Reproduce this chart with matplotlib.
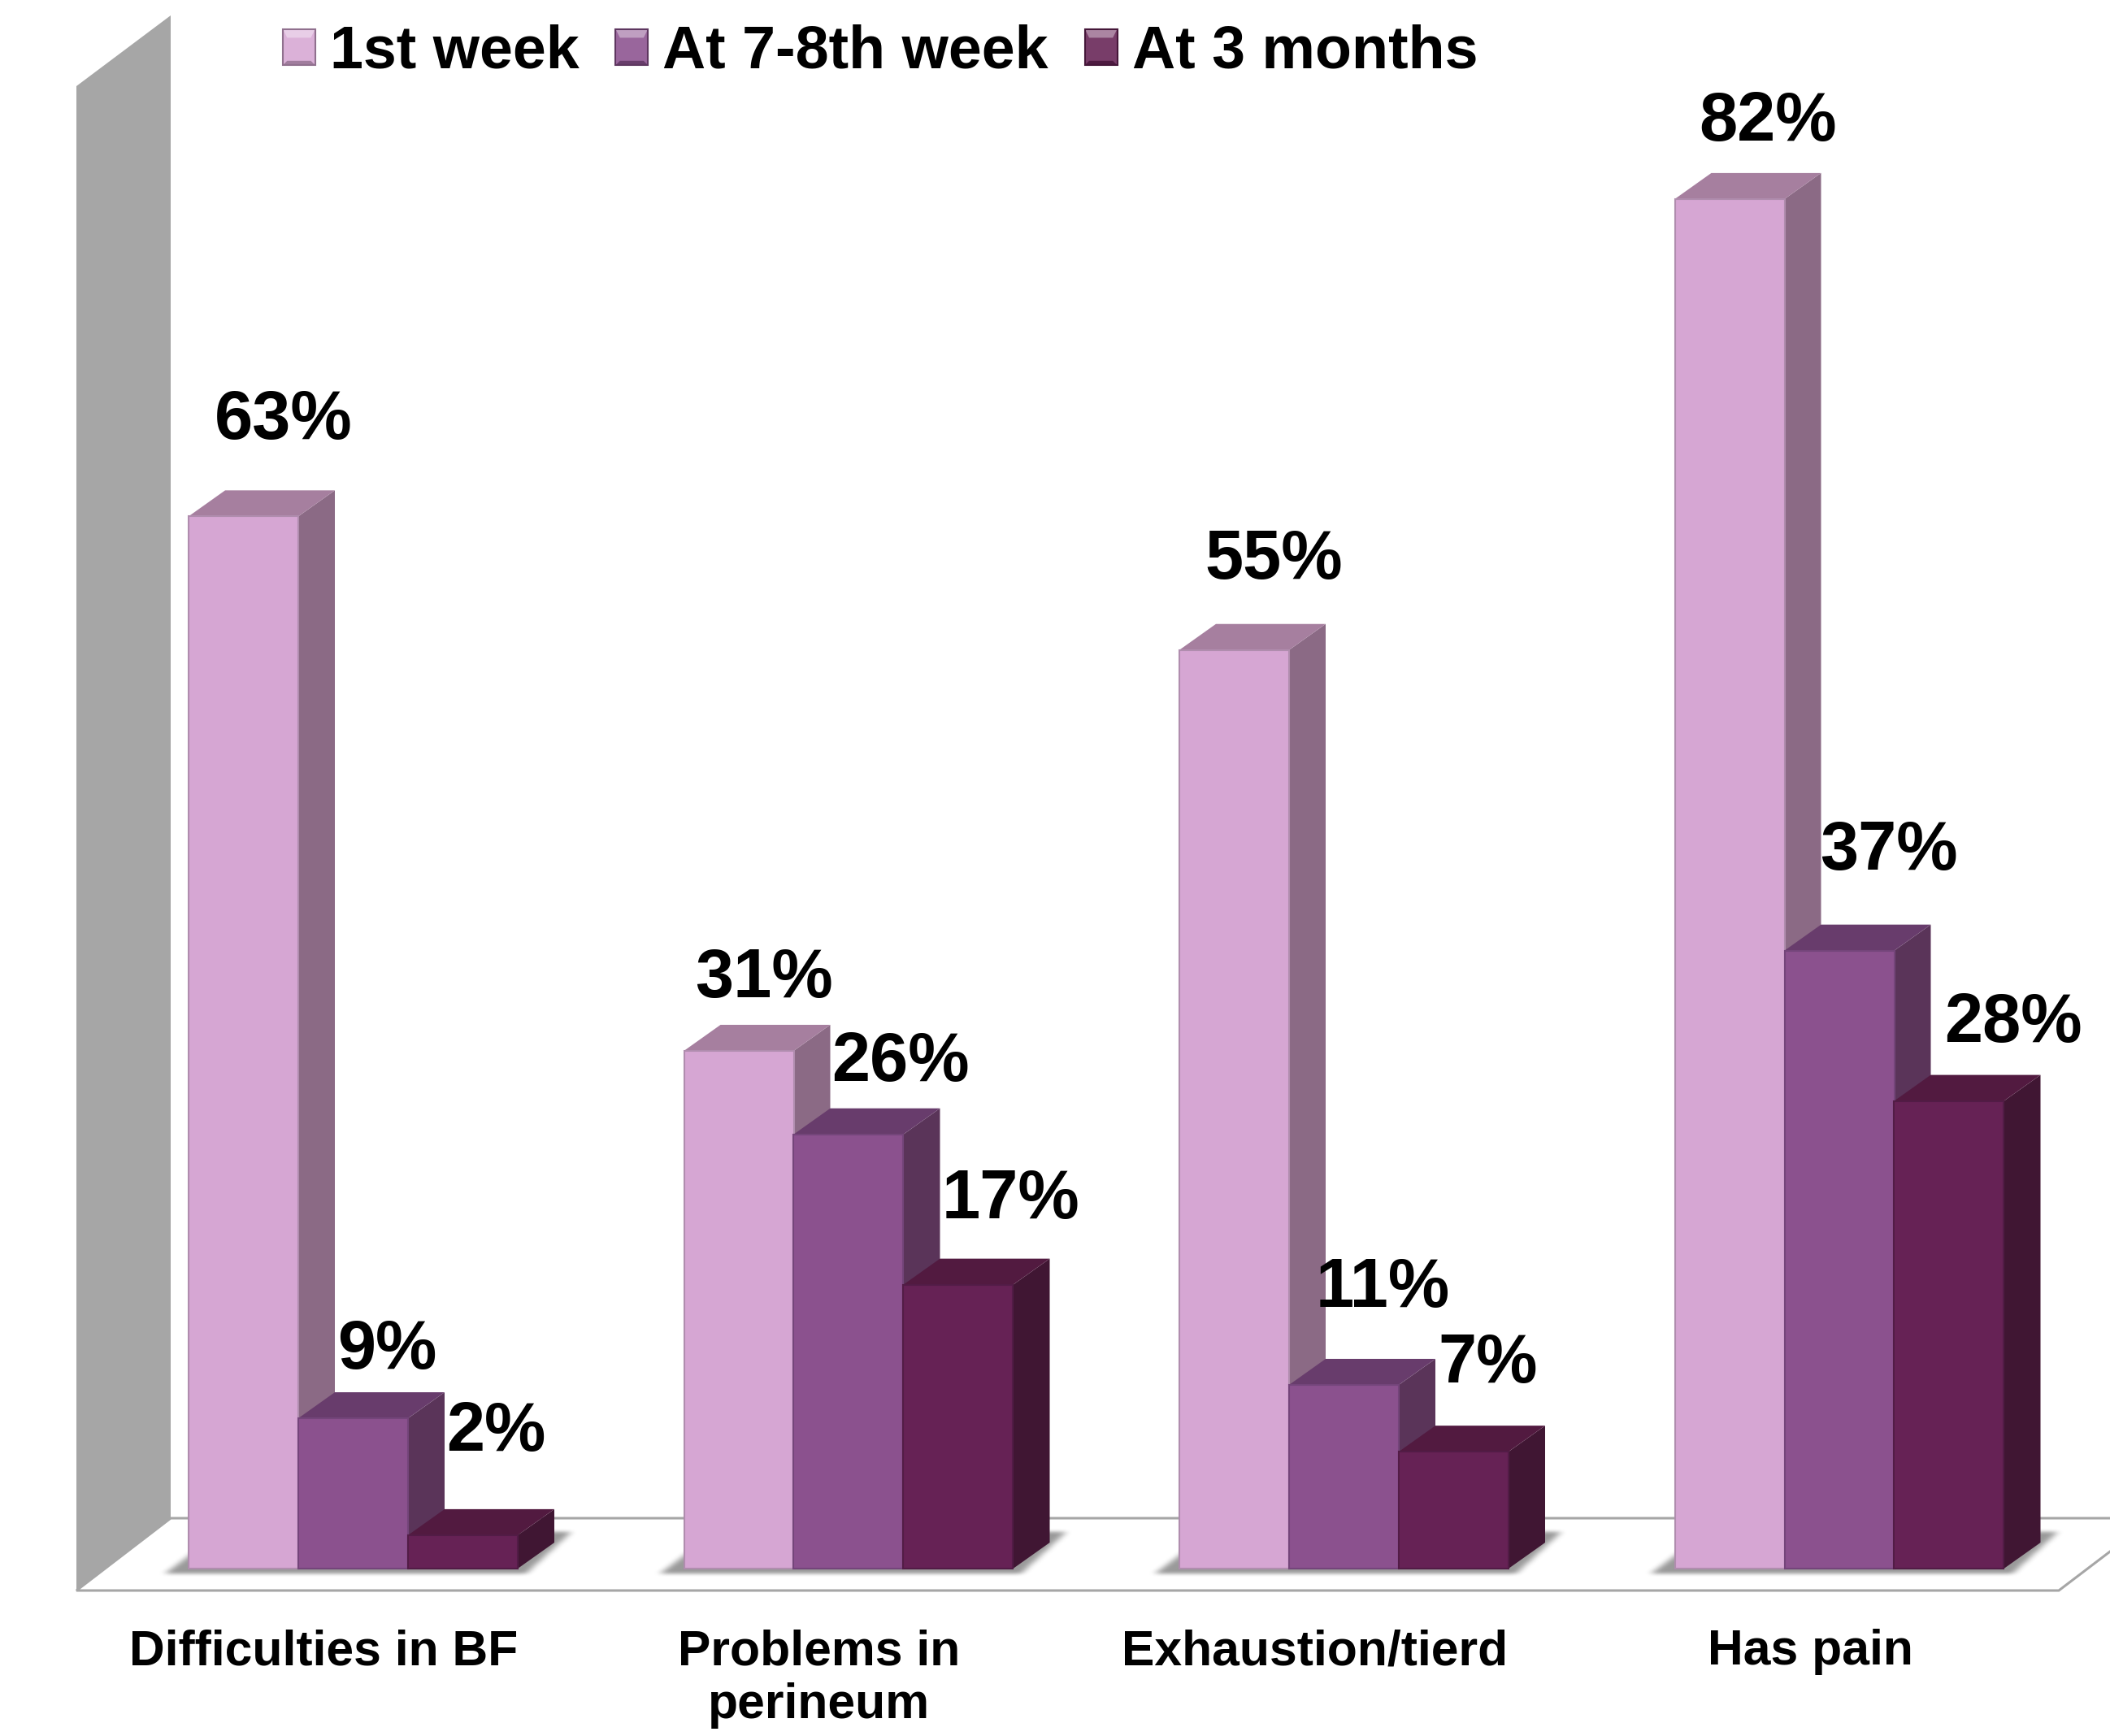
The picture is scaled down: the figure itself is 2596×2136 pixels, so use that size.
import numpy as np
import matplotlib
matplotlib.use("Agg")
import matplotlib.pyplot as plt
from matplotlib.legend_handler import HandlerBase
from matplotlib.patches import Patch, Polygon
from matplotlib.path import Path

plt.rcParams['font.family'] = ['Liberation Sans', 'DejaVu Sans']
plt.rcParams['font.weight'] = 'bold'

categories = ['Difficulties in BF', 'Problems in\nperineum', 'Exhaustion/tierd', 'Has pain']
series_names = ['1st week', 'At 7-8th week', 'At 3 months']
first_week = [63, 31, 55, 82]
week_7_8 = [9, 26, 11, 37]
three_months = [2, 17, 7, 28]

front_colors = ['#D6A6D3', '#8B518E', '#662255']
top_colors = ['#A67F9F', '#683C6C', '#521A40']
side_colors = ['#8B6A85', '#5A3459', '#401633']
edge_colors = ['#B08DAE', '#74457A', '#521C46']

# label offsets from the bar top, pixels
label_dx = [[49, 31, 49, 47], [42, 64, 48, 61], [41, 64, 42, 79]]
label_dy = [[117, 88, 110, 94], [83, 88, 118, 122], [126, 104, 107, 95]]

W, H = 2596, 2136
PX_X = 609.5      # pixels per category
PX_Y = 20.55      # pixels per percent
X0 = 434.5
Y0 = 1930
FLOOR_FRONT = 1957
FLOOR_BACK = 1868
GREY = '#A6A6A6'

bar_w = 135 / PX_X
depth_x = 45 / PX_X
depth_y = 32 / PX_Y


def xd(px):
    return (px - X0) / PX_X


def yd(py):
    return (Y0 - py) / PX_Y


class BevelHandler(HandlerBase):
    # legend swatch with a bevelled frame
    def create_artists(self, legend, orig_handle, xdescent, ydescent, width, height, fontsize, trans):
        face = np.array(matplotlib.colors.to_rgb(orig_handle.get_facecolor()))
        light = face + (1 - face) * 0.45
        mid = face + (1 - face) * 0.12
        dark = face * 0.75
        x0, y0 = -xdescent, -ydescent
        x1, y1 = x0 + width, y0 + height
        b = height * 0.24
        s = height * 0.12
        shapes = [
            ([(x0, y0), (x1, y0), (x1, y1), (x0, y1)], mid),
            ([(x0, y1), (x1, y1), (x1 - s, y1 - b), (x0 + s, y1 - b)], light),
            ([(x0, y0), (x1, y0), (x1 - s, y0 + s), (x0 + s, y0 + s)], dark),
        ]
        artists = []
        for pts, col in shapes:
            artists.append(Polygon(pts, closed=True, facecolor=col, edgecolor='none', transform=trans))
        artists.append(Polygon(shapes[0][0], closed=True, facecolor='none', edgecolor=dark * 0.9, lw=1.5, transform=trans))
        return artists


def floor_shadow(ax, left, right):
    # soft shadow cast on the floor by one group of bars
    xs = np.arange(left - 120, right + 150)
    ys = np.arange(1850, 1965)
    gx, gy = np.meshgrid(xs, ys)
    outline = [(left - 30, 1936), (right + 10, 1936), (right + 66, 1884), (left + 40, 1884)]
    mask = Path(outline).contains_points(np.c_[gx.ravel(), gy.ravel()]).reshape(gx.shape).astype(float)
    kernel = np.ones(9) / 9
    for _ in range(3):
        mask = np.apply_along_axis(lambda r: np.convolve(r, kernel, mode='same'), 1, mask)
    kernel = np.ones(5) / 5
    for _ in range(2):
        mask = np.apply_along_axis(lambda c: np.convolve(c, kernel, mode='same'), 0, mask)
    rgba = np.zeros(mask.shape + (4,))
    rgba[..., 3] = mask * 0.4
    ax.imshow(rgba, extent=(xd(xs[0]), xd(xs[-1]), yd(ys[-1]), yd(ys[0])), aspect='auto', zorder=1.5, interpolation='bilinear')


fig = plt.figure(figsize=(W / 100, H / 100), dpi=100, facecolor='white')
ax = fig.add_axes([0, (H - FLOOR_FRONT) / H, 1, FLOOR_FRONT / H])

# back wall and floor
ax.add_patch(Polygon([(xd(94), yd(106)), (xd(210), yd(19)), (xd(210), yd(FLOOR_BACK)), (xd(94), yd(FLOOR_FRONT))],
                     closed=True, facecolor=GREY, edgecolor='none', zorder=1, clip_on=False))
floor_right = 2533 + 117
ax.add_patch(Polygon([(xd(94), yd(FLOOR_FRONT)), (xd(2533), yd(FLOOR_FRONT)), (xd(floor_right), yd(FLOOR_BACK)), (xd(210), yd(FLOOR_BACK))],
                     closed=True, facecolor='white', edgecolor=GREY, lw=2.2, zorder=1, clip_on=False))

all_values = [first_week, week_7_8, three_months]
positions = np.arange(len(categories))

for g in positions:
    floor_shadow(ax, X0 + g * PX_X - 202, X0 + g * PX_X + 203)

for s, values in enumerate(all_values):
    x = positions + (s - 1) * bar_w
    z = 3 + s * 2
    ax.bar(x, values, width=bar_w, color=front_colors[s], edgecolor=edge_colors[s], linewidth=1.5, zorder=z + 1)
    for xi, v in zip(x, values):
        l, r = xi - bar_w / 2, xi + bar_w / 2
        ax.add_patch(Polygon([(r, 0), (r + depth_x, depth_y), (r + depth_x, v + depth_y), (r, v)],
                             closed=True, facecolor=side_colors[s], edgecolor='none', zorder=z))
        ax.add_patch(Polygon([(l, v), (r, v), (r + depth_x, v + depth_y), (l + depth_x, v + depth_y)],
                             closed=True, facecolor=top_colors[s], edgecolor='none', zorder=z))

for s, values in enumerate(all_values):
    for g, v in enumerate(values):
        ax.annotate(f'{v}%', (g + (s - 1) * bar_w, v), xytext=(label_dx[s][g], label_dy[s][g]),
                    textcoords='offset pixels', ha='center', va='center', fontsize=61, color='black', zorder=20)

ax.set_xlim(xd(0), xd(W))
ax.set_ylim(yd(FLOOR_FRONT), yd(0))
ax.set_xticks(positions - 36 / PX_X)
ax.set_xticklabels(categories, fontsize=43.7, linespacing=1.2)
ax.tick_params(axis='x', length=0, pad=34)
ax.set_yticks([])
for spine in ax.spines.values():
    spine.set_visible(False)

handles = [Patch(facecolor=c, label=n) for c, n in zip(front_colors, series_names)]
ax.legend(handles=handles, handler_map={Patch: BevelHandler()}, ncol=3, loc='upper left',
          bbox_to_anchor=(348 / W, 1 - 30 / H), bbox_transform=fig.transFigure, frameon=False,
          fontsize=53, borderpad=0, borderaxespad=0, handlelength=0.54, handleheight=0.55,
          handletextpad=0.245, columnspacing=0.61)

fig.savefig('out.png', dpi=100, facecolor='white')
